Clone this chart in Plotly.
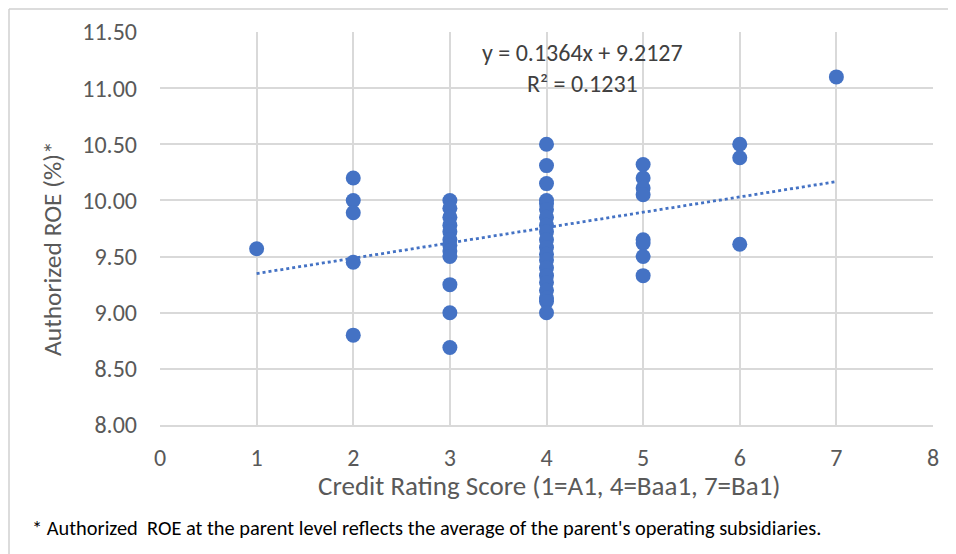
import plotly.graph_objects as go

# Data
credit_score = [1,
                2, 2, 2, 2, 2,
                3, 3, 3, 3, 3, 3, 3, 3, 3, 3, 3, 3,
                4, 4, 4, 4, 4, 4, 4, 4, 4, 4, 4, 4, 4, 4, 4, 4, 4, 4, 4, 4,
                5, 5, 5, 5, 5, 5, 5, 5,
                6, 6, 6,
                7]
authorized_roe = [9.57,
                  10.20, 10.00, 9.89, 9.45, 8.80,
                  10.00, 9.93, 9.85, 9.78, 9.72, 9.65, 9.60, 9.55, 9.50, 9.25, 9.00, 8.69,
                  10.50, 10.31, 10.15, 10.00, 9.97, 9.92, 9.85, 9.78, 9.72, 9.65, 9.58, 9.52, 9.47, 9.40, 9.33, 9.27, 9.20, 9.13, 9.10, 9.00,
                  10.32, 10.20, 10.11, 10.05, 9.65, 9.62, 9.50, 9.33,
                  10.50, 10.38, 9.61,
                  11.10]
trend_slope = 0.1364
trend_intercept = 9.2127
r_squared = 0.1231
trend_x = [1, 7]
x_ticks = [0, 1, 2, 3, 4, 5, 6, 7, 8]
y_ticks = [8.0, 8.5, 9.0, 9.5, 10.0, 10.5, 11.0, 11.5]
x_title = "Credit Rating Score (1=A1, 4=Baa1, 7=Ba1)"
y_title = "Authorized ROE (%)*"
footnote = "* Authorized  ROE at the parent level reflects the average of the parent's operating subsidiaries."

FONT = "Carlito, Calibri, Liberation Sans Narrow, Open Sans, sans-serif"
BLUE = "#4472C4"
GRID = "#d9d9d9"
TXT = "#595959"

# page body has an 8px offset; plot area in page coords: x 160..933, y 32..425
L, T = 152, 24
W, H = 948, 546
PW, PH = 773, 393


def px(page_x):
    return (page_x - 8 - L) / PW


def py(page_y):
    return (T + PH - (page_y - 8)) / PH


fig = go.Figure()
fig.add_trace(go.Scatter(
    x=trend_x, y=[trend_slope * v + trend_intercept for v in trend_x],
    mode="lines", line=dict(color=BLUE, width=2.8, dash="dot"),
    hoverinfo="skip", showlegend=False))
fig.add_trace(go.Scatter(
    x=credit_score, y=authorized_roe, mode="markers",
    marker=dict(color=BLUE, size=15), showlegend=False))

fig.update_layout(
    width=W, height=H,
    paper_bgcolor="white", plot_bgcolor="white",
    margin=dict(l=L, r=W - L - PW, t=T, b=H - T - PH, autoexpand=False),
    font=dict(family=FONT, color=TXT),
    xaxis=dict(range=[0, 8], tickvals=x_ticks, ticktext=[str(v) for v in x_ticks],
               showgrid=True, gridcolor=GRID, gridwidth=1.5, zeroline=False,
               showline=True, linecolor=GRID, linewidth=1.5,
               tickfont=dict(size=24, color=TXT), ticklabelstandoff=10),
    yaxis=dict(range=[8, 11.5], tickvals=y_ticks, ticktext=[f"{v:.2f}" for v in y_ticks],
               showgrid=True, gridcolor=GRID, gridwidth=1.5, zeroline=False,
               showline=False,
               tickfont=dict(size=24, color=TXT), ticklabelstandoff=22),
)

# axis titles
fig.add_annotation(x=px(549), y=py(485), xref="paper", yref="paper",
                   xanchor="center", yanchor="middle", showarrow=False,
                   text=x_title, font=dict(size=27, color=TXT))
fig.add_annotation(x=px(52), y=py(249), xref="paper", yref="paper",
                   xanchor="center", yanchor="middle", showarrow=False, textangle=-90,
                   text=y_title, font=dict(size=25.5, color=TXT))

# trendline label
fig.add_annotation(x=4.37, y=11.32, xref="x", yref="y",
                   text=f"y = {trend_slope}x + {trend_intercept}",
                   showarrow=False, font=dict(size=24, color="#404040"))
fig.add_annotation(x=4.37, y=11.045, xref="x", yref="y",
                   text=f"R² = {r_squared}",
                   showarrow=False, font=dict(size=24, color="#404040"))

# footnote
fig.add_annotation(x=px(30), y=py(528), xref="paper", yref="paper",
                   xanchor="left", yanchor="middle", showarrow=False,
                   text=footnote, font=dict(size=20.4, color="black"))

# chart frame: left and top edges (kept inside the figure canvas)
fig.add_shape(type="line", xref="paper", yref="paper", layer="above",
              x0=px(9), x1=px(9), y0=py(554), y1=py(9),
              line=dict(color="#d0d0d0", width=1.5))
fig.add_shape(type="line", xref="paper", yref="paper", layer="above",
              x0=px(9), x1=px(956), y0=py(9), y1=py(9),
              line=dict(color="#d0d0d0", width=1.5))

fig.write_html("out.html")
